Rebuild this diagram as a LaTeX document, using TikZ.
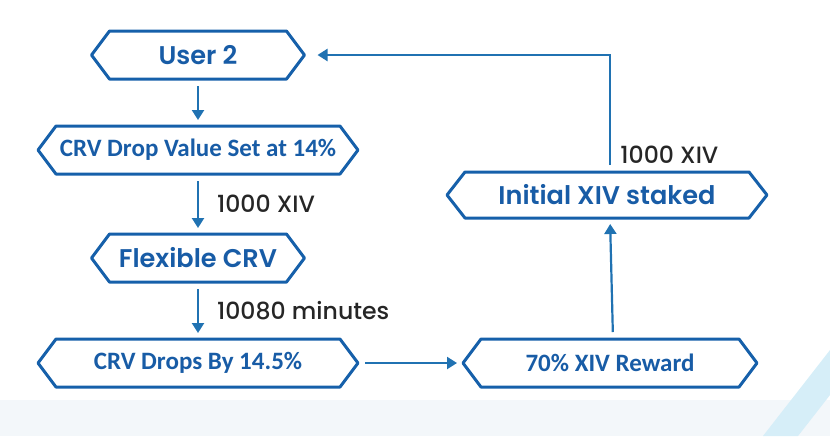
\documentclass[tikz,border=0pt]{standalone}
\usepackage{fontspec}
\newfontfamily\popfont{Poppins}[BoldFont={Poppins SemiBold}]
\newfontfamily\popmed{Poppins Medium}
\newfontfamily\calfont{Carlito}
\usetikzlibrary{arrows.meta, calc}

\definecolor{boxblue}{RGB}{22,96,170}
\definecolor{txtblue}{RGB}{24,92,166}
\definecolor{arrblue}{RGB}{32,114,178}
\definecolor{bandgray}{RGB}{243,247,250}
\definecolor{stripecyan}{RGB}{214,238,248}

\begin{document}
\begin{tikzpicture}[x=0.5pt, y=-0.5pt,
  hexnode/.style={rectangle, minimum height=24pt, inner sep=0pt, outer sep=0pt, text=txtblue},
  geo/.style={font=\popfont\bfseries\fontsize{12.8}{14}\selectfont},
  cal/.style={font=\calfont\bfseries\fontsize{12.5}{14}\selectfont},
  hexline/.style={draw=boxblue, line width=1.5pt, line join=round},
  flow/.style={draw=arrblue, line width=1.1pt, -{Triangle[length=5pt, width=6pt]},
    shorten <=3.5pt, shorten >=3pt},
  lbl/.style={font=\popmed\fontsize{11.8}{13}\selectfont, text=black!85, inner sep=0pt}]
  \useasboundingbox (0,0) rectangle (830,436);
  % background
  \fill[bandgray] (0,400) rectangle (830,436);
  \fill[stripecyan] (763,436) -- (830,350) -- (830,395) -- (798,436) -- cycle;

  % boxes
  \node[hexnode, geo, minimum width=106.5pt] (user) at (198,55) {User 2};
  \node[hexnode, cal, minimum width=160pt] (dropset) at (198,150) {CRV Drop Value Set at 14\%};
  \node[hexnode, geo, minimum width=106.5pt] (flex) at (198,258) {Flexible CRV};
  \node[hexnode, cal, minimum width=160pt] (drops) at (198,363) {CRV Drops By 14.5\%};
  \node[hexnode, cal, minimum width=147pt] (reward) at (610,363) {70\% XIV Reward};
  \node[hexnode, geo, minimum width=160pt, minimum height=23pt] (staked) at (607,195) {Initial XIV staked};
  \foreach \n in {user, dropset, flex, drops, reward, staked}
    \draw[hexline] ([xshift=9pt]\n.north west) -- ([xshift=-9pt]\n.north east) -- (\n.east)
      -- ([xshift=-9pt]\n.south east) -- ([xshift=9pt]\n.south west) -- (\n.west) -- cycle;

  % arrows
  \draw[flow] (user) -- (dropset);
  \draw[flow] (dropset) -- node[lbl, right=9pt] (amtone) {1000 XIV} (flex);
  \draw[flow] (flex) -- node[lbl, right=9pt] (mins) {10080 minutes} (drops);
  \draw[flow] (drops) -- (reward);
  \draw[flow] ([xshift=1.5pt]reward.north) -- ([xshift=1.5pt]staked.south);
  \draw[flow, shorten >=6.5pt] ([xshift=1.5pt]staked.north) |- (user.east);
  \node[lbl, anchor=base west] (amttwo) at ([xshift=6.5pt, yshift=4.5pt]staked.north) {1000 XIV};
\end{tikzpicture}
\end{document}
